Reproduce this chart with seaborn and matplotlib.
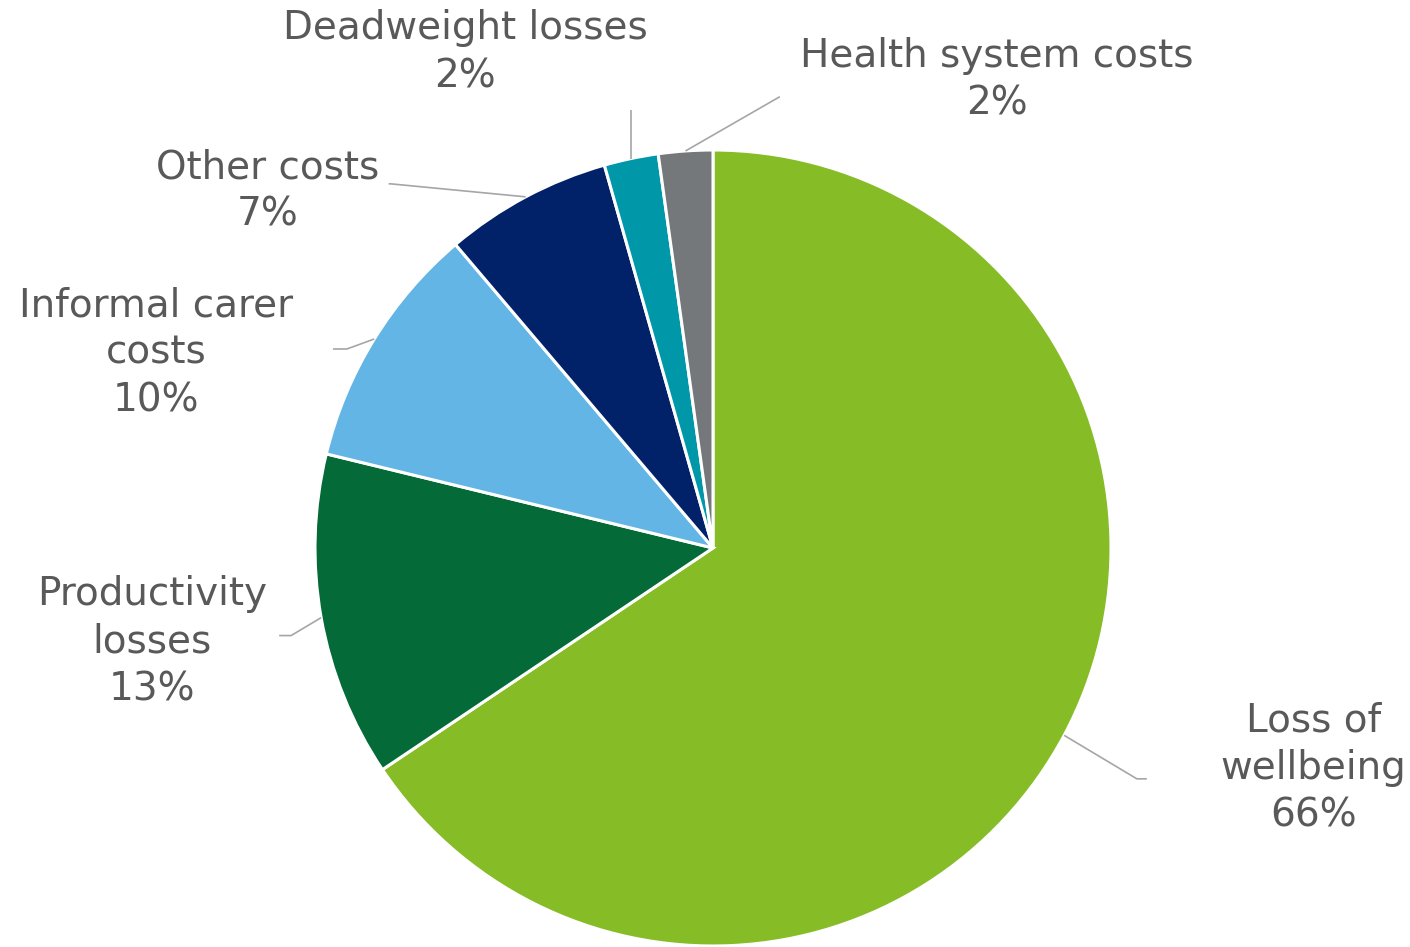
import numpy as np
import matplotlib
matplotlib.use("Agg")
import matplotlib.pyplot as plt
import seaborn as sns

# Cost components, clockwise from 12 o'clock
categories = ["Loss of\nwellbeing", "Productivity\nlosses", "Informal carer\ncosts",
              "Other costs", "Deadweight losses", "Health system costs"]
shares = [65.6, 13.2, 10.0, 6.8, 2.2, 2.2]
colors = ["#86BC25", "#046A38", "#62B5E5", "#012169", "#0097A9", "#75787B"]

# Label text centres and leader-line elbows (data units, pie radius = 1)
label_xy = [(1.508, -0.553), (-1.410, -0.236), (-1.399, 0.490),
            (-1.120, 0.897), (-0.623, 1.246), (0.714, 1.176)]
elbow_xy = [(1.065, -0.58), (-1.06, -0.22), (-0.92, 0.50),
            (-0.81, 0.915), (None, 1.10), (0.168, 1.134)]
tail_xy = [(1.09, -0.58), (-1.09, -0.22), (-0.955, 0.50),
           (-0.815, 0.915), None, None]

sns.set_theme(style="white")
plt.rcParams["font.family"] = ["DejaVu Sans"]

fig = plt.figure(figsize=(14.10, 9.47), dpi=100)
ax = fig.add_axes([0, 0, 1, 1])
wedges, _ = ax.pie(shares, colors=sns.color_palette(colors), startangle=90,
                   counterclock=False, radius=1.0,
                   wedgeprops=dict(edgecolor="white", linewidth=2.2))
ax.set_xlim(-713 / 398, (1410 - 713) / 398)
ax.set_ylim(-399 / 398, 548 / 398)
ax.set_aspect("auto")
ax.axis("off")

text_color = "#595959"
line_color = "#A6A6A6"
for w, name, v, (tx, ty), elbow, tail in zip(wedges, categories, shares,
                                             label_xy, elbow_xy, tail_xy):
    mid = np.deg2rad((w.theta1 + w.theta2) / 2)
    px, py = np.cos(mid), np.sin(mid)
    ex, ey = elbow
    if ex is None:
        ex = px  # straight vertical leader
    xs, ys = [px, ex], [py, ey]
    if tail is not None:
        xs.append(tail[0])
        ys.append(tail[1])
    ax.plot(xs, ys, color=line_color, lw=1.2, solid_capstyle="butt")
    ax.text(tx, ty, f"{name}\n{round(v)}%", ha="center", va="center",
            fontsize=28, color=text_color, linespacing=1.33)

fig.savefig("out.png", dpi=100)
